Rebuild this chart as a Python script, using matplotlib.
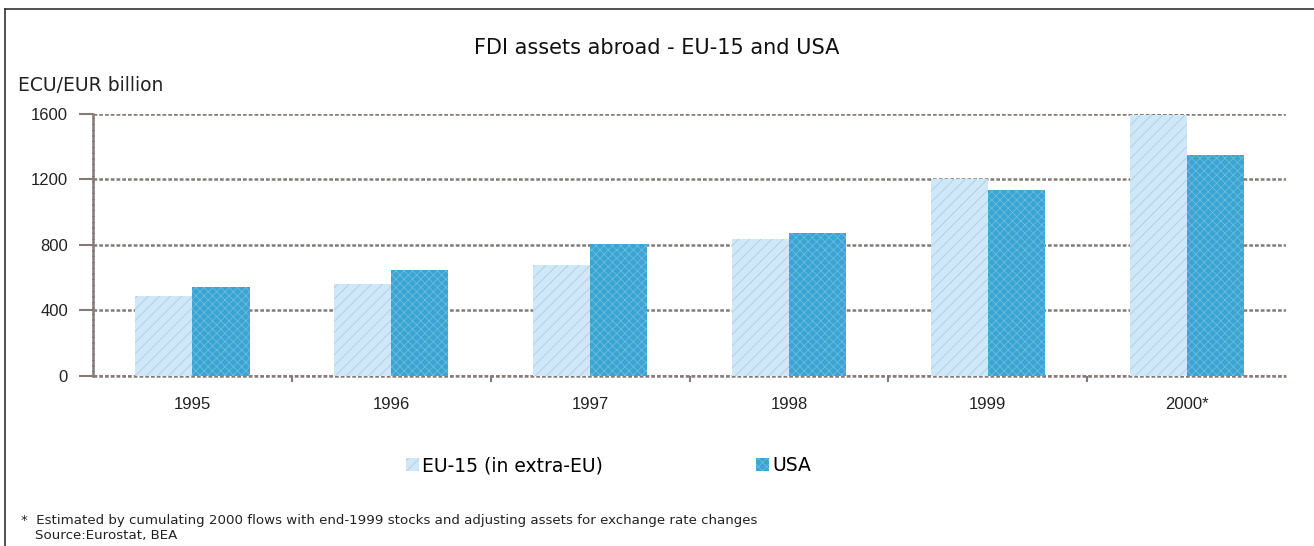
import matplotlib
matplotlib.use('Agg')
from matplotlib import pyplot as plt
from matplotlib.lines import Line2D
import numpy as np

years = ['1995', '1996', '1997', '1998', '1999', '2000*']
eu15 = [485, 560, 675, 835, 1200, 1590]
usa = [545, 645, 805, 870, 1135, 1345]
yticks = [0, 400, 800, 1200, 1600]

plt.rcParams['hatch.linewidth'] = 0.6
gridcol = '#857a75'
dash = (0, (1.5, 0.8))

fig = plt.figure(figsize=(13.14, 5.46), dpi=100)
ax = fig.add_axes([0.0708, 0.3114, 0.9079, 0.4807])

x = np.arange(len(years))
w = 0.287
ax.bar(x - w / 2, eu15, w, color='#cde8f6', edgecolor='#b9c6ec', hatch='///',
       linewidth=0, zorder=3, label='EU-15 (in extra-EU)')
ax.bar(x + w / 2, usa, w, color='#3aa5d2', edgecolor='#6cbbe0', hatch='xxxx',
       linewidth=0, zorder=3, label='USA')

ax.set_xlim(-0.5, 5.5)
ax.set_ylim(0, 1600)
ax.set_yticks(yticks)
ax.set_yticklabels([str(v) for v in yticks], fontsize=12, family='Liberation Sans')
ax.set_xticks(x)
ax.set_xticklabels(years, fontsize=12, family='Liberation Sans')
ax.set_xticks(np.arange(0.5, 5.5, 1), minor=True)
ax.tick_params(axis='x', which='major', length=0, pad=15, colors='#222222')
ax.tick_params(axis='x', which='minor', length=4, width=1.5, color=gridcol, direction='out')
ax.tick_params(axis='y', length=10, width=1.5, color=gridcol, pad=8, labelcolor='#222222')

ax.grid(axis='y', color=gridcol, linestyle=dash, linewidth=1.8, zorder=1)
for s in ['top', 'right', 'bottom']:
    ax.spines[s].set_visible(False)
ax.spines['left'].set_color(gridcol)
ax.spines['left'].set_linestyle(dash)
ax.spines['left'].set_linewidth(1.8)
ax.axhline(0, color=gridcol, linestyle=dash, linewidth=1.8, zorder=1, clip_on=False)

fig.text(0.5, 0.912, 'FDI assets abroad - EU-15 and USA', ha='center', va='center',
         fontsize=15, family='DejaVu Sans', color='#111111')
fig.text(0.0137, 0.843, 'ECU/EUR billion', ha='left', va='center',
         fontsize=13.5, family='DejaVu Sans', color='#222222')

leg = fig.legend(loc='center', bbox_to_anchor=(0.463, 0.147), ncol=2, frameon=False,
                 prop={'family': 'DejaVu Sans', 'size': 13.5}, columnspacing=8.2,
                 handlelength=0.7, handleheight=0.7, handletextpad=0.15)

fig.text(0.016, 0.047, '*  Estimated by cumulating 2000 flows with end-1999 stocks and adjusting assets for exchange rate changes',
         fontsize=9.6, family='DejaVu Sans', color='#222222', va='center')
fig.text(0.027, 0.020, 'Source:Eurostat, BEA', fontsize=9.6, family='DejaVu Sans',
         color='#222222', va='center')

fig.add_artist(Line2D([0.0038, 1.0], [0.984, 0.984], color='#333333', linewidth=1.2))
fig.add_artist(Line2D([0.0038, 0.0038], [0.0, 0.984], color='#333333', linewidth=1.2))

fig.savefig('out.png', dpi=100)
